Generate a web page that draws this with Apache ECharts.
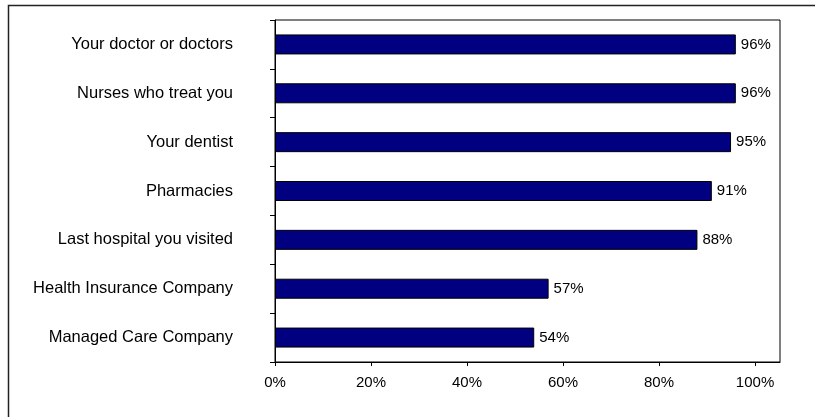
<!DOCTYPE html>
<html>
<head>
<meta charset="utf-8">
<script src="https://cdn.jsdelivr.net/npm/echarts@6/dist/echarts.min.js"></script>
<style>
html,body{margin:0;padding:0;background:#fff;}
#chart{width:815px;height:417px;}
</style>
</head>
<body>
<div id="chart"></div>
<script>
var categories = [
  'Your doctor or doctors',
  'Nurses who treat you',
  'Your dentist',
  'Pharmacies',
  'Last hospital you visited',
  'Health Insurance Company',
  'Managed Care Company'
];
var values = [96, 96, 95, 91, 88, 57, 54];
var tickValues = [0, 20, 40, 60, 80, 100];

var font = '"Liberation Sans", Arial, sans-serif';
var chart = echarts.init(document.getElementById('chart'), null, {renderer: 'canvas'});
chart.setOption({
  animation: false,
  backgroundColor: '#fff',
  graphic: [{
    type: 'rect',
    shape: {x: 8.5, y: 5.5, width: 1000, height: 1000},
    style: {fill: 'none', stroke: '#222', lineWidth: 1.5},
    silent: true
  }],
  grid: {
    left: 275, top: 20, right: 35, bottom: 55,
    show: true, borderColor: '#000', borderWidth: 1, backgroundColor: '#fff'
  },
  xAxis: {
    type: 'value',
    min: 0, max: 105.2,
    splitLine: {show: false},
    axisLine: {show: true, lineStyle: {color: '#000', width: 1}},
    axisTick: {show: true, length: 4, lineStyle: {color: '#000'}, customValues: tickValues},
    axisLabel: {
      customValues: tickValues,
      formatter: function (v) { return v + '%'; },
      color: '#000', fontSize: 15, fontFamily: font, margin: 13
    }
  },
  yAxis: {
    type: 'category',
    data: categories,
    inverse: true,
    axisLine: {show: true, lineStyle: {color: '#000', width: 1}},
    axisTick: {show: true, length: 5, lineStyle: {color: '#000'}},
    axisLabel: {color: '#000', fontSize: 16.5, fontFamily: font, margin: 42}
  },
  series: [{
    type: 'bar',
    data: values,
    barWidth: 20,
    itemStyle: {color: '#000080', borderColor: '#000', borderWidth: 1},
    label: {
      show: true, position: 'right', distance: 5,
      formatter: function (p) { return p.value + '%'; },
      color: '#000', fontSize: 15, fontFamily: font
    }
  }]
});
</script>
</body>
</html>
